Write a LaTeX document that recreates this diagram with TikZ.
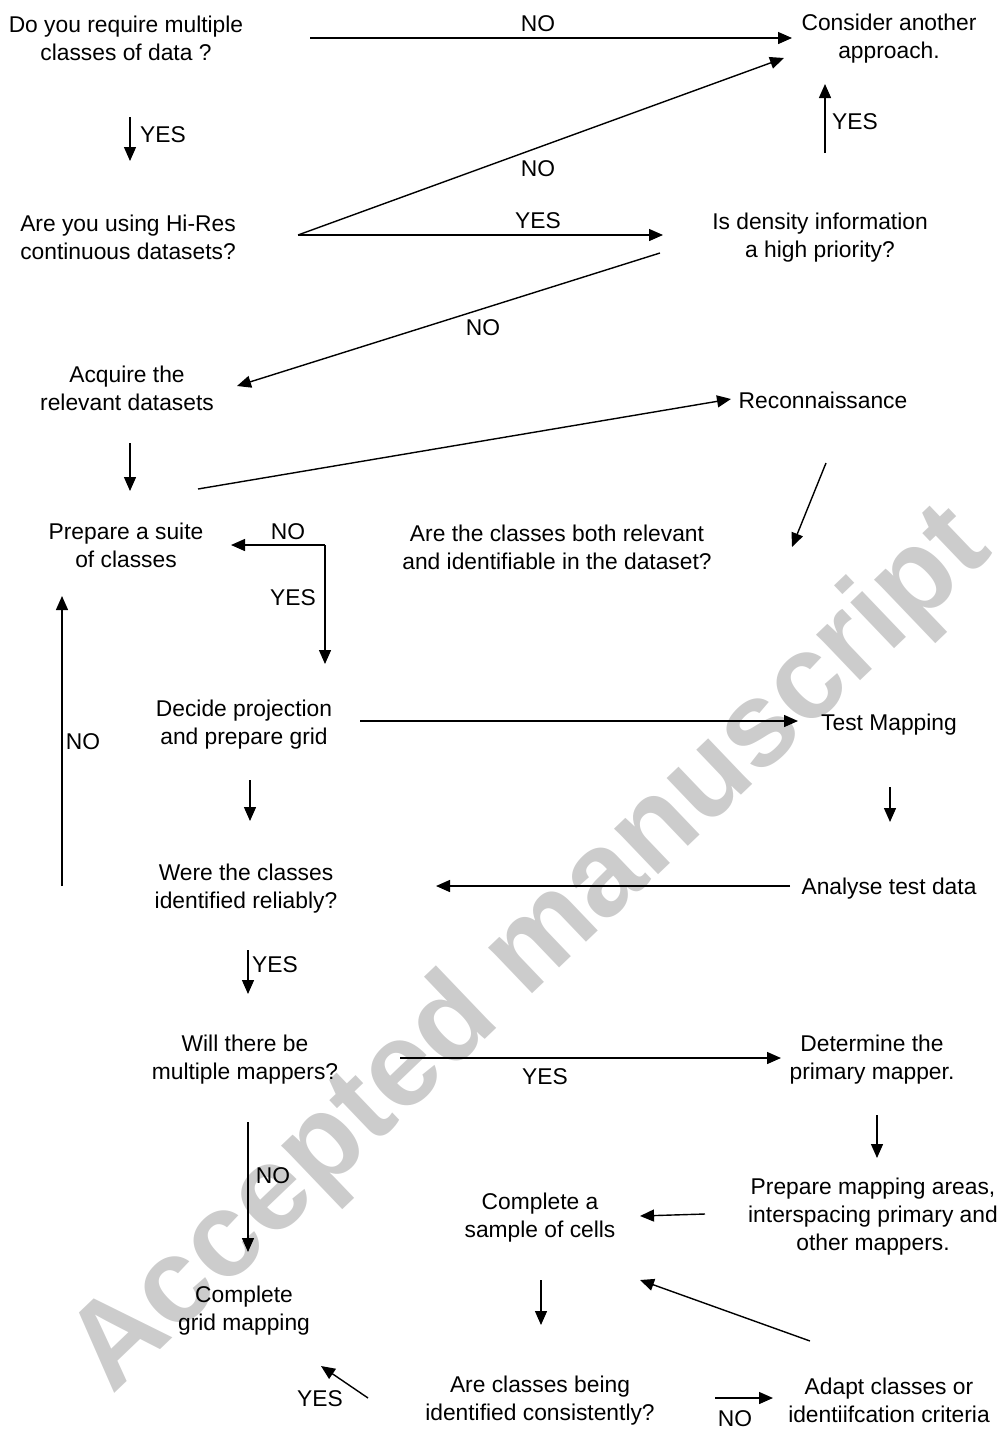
\documentclass[tikz,border=0pt]{standalone}
\usepackage{fontspec}
\setmainfont{Liberation Sans}
\usepackage{tikz}
\usetikzlibrary{arrows.meta}
\tikzset{
	question/.style={align=center, inner sep=0pt, yshift=-1.2pt, font=\fontsize{11.4}{14}\selectfont},
	answer/.style={inner sep=0pt, yshift=-0.5pt, font=\fontsize{11.4}{14}\selectfont},
	flow/.style={-{Triangle[length=7pt,width=6pt]}, line width=0.7pt},
	stamp/.style={black!20, inner sep=0pt, font=\fontsize{60}{62}\selectfont\bfseries}
}

\begin{document}
\begin{tikzpicture}[x=0.5pt,y=-0.5pt]
	\useasboundingbox (0,0) rectangle (1000,1430);
	\node[stamp, rotate=43.7] (mark) at (532,952) {Accepted manuscript};

	\node[question] (q1) at (126,36) {Do you require multiple\\classes of data ?};
	\node[question] (cons) at (889,36) {Consider another\\approach.};
	\node[question] (q2) at (128,235) {Are you using Hi-Res\\continuous datasets?};
	\node[question] (dens) at (820,235) {Is density information\\a high priority?};
	\node[question] (acq) at (127,386) {Acquire the\\relevant datasets};
	\node[question] (recon) at (823,398) {Reconnaissance};
	\node[question] (suite) at (126,543) {Prepare a suite\\of classes};
	\node[question] (relev) at (557,545) {Are the classes both relevant\\and identifiable in the dataset?};
	\node[question] (decide) at (244,722) {Decide projection\\and prepare grid};
	\node[question] (test) at (889,722) {Test Mapping};
	\node[question] (reliab) at (246,886) {Were the classes\\identified reliably?};
	\node[question] (analyse) at (889,886) {Analyse test data};
	\node[question] (multi) at (245,1057) {Will there be\\multiple mappers?};
	\node[question] (primary) at (872,1057) {Determine the\\primary mapper.};
	\node[question] (sample) at (540,1215) {Complete a\\sample of cells};
	\node[question] (areas) at (873,1214) {Prepare mapping areas,\\interspacing primary and\\other mappers.};
	\node[question] (grid) at (244,1308) {Complete\\grid mapping};
	\node[question] (consist) at (540,1398) {Are classes being\\identified consistently?};
	\node[question] (adapt) at (889,1398) {Adapt classes or\\identiifcation criteria};

	\node[answer] (no1) at (538,23) {NO};
	\node[answer] (yes1) at (163,134) {YES};
	\node[answer] (no2) at (538,168) {NO};
	\node[answer] (yes2) at (538,220) {YES};
	\node[answer] (yes3) at (855,121) {YES};
	\node[answer] (no3) at (483,327) {NO};
	\node[answer] (no4) at (288,531) {NO};
	\node[answer] (yes4) at (293,597) {YES};
	\node[answer] (no5) at (83,741) {NO};
	\node[answer] (yes5) at (275,964) {YES};
	\node[answer] (yes6) at (545,1076) {YES};
	\node[answer] (no6) at (273,1175) {NO};
	\node[answer] (yes7) at (320,1398) {YES};
	\node[answer] (no7) at (735,1418) {NO};

	\coordinate (q1out) at (310,38);
	\coordinate (consin) at (792,38);
	\coordinate (q1down) at (130,117);
	\coordinate (q2in) at (130,161);
	\coordinate (q2out) at (298,235);
	\coordinate (consin2) at (784,58);
	\coordinate (densin) at (663,235);
	\coordinate (densup) at (825,153);
	\coordinate (consin3) at (825,84);
	\coordinate (densout) at (660,253);
	\coordinate (acqin) at (237,386);
	\coordinate (acqdown) at (130,443);
	\coordinate (suitein) at (130,491);
	\coordinate (suiteout) at (198,489);
	\coordinate (reconin) at (731,399);
	\coordinate (reconout) at (826,463);
	\coordinate (relevin) at (792,547);
	\coordinate (split) at (325,545);
	\coordinate (suitein2) at (231,545);
	\coordinate (decidein) at (325,664);
	\coordinate (decideout) at (360,721);
	\coordinate (testin) at (798,721);
	\coordinate (reliabup) at (62,886);
	\coordinate (suitein3) at (62,596);
	\coordinate (decidedown) at (250,780);
	\coordinate (reliabin) at (250,821);
	\coordinate (testdown) at (890,787);
	\coordinate (analysein) at (890,822);
	\coordinate (analyseout) at (790,886);
	\coordinate (reliabin2) at (436,886);
	\coordinate (reliabdown) at (248,950);
	\coordinate (multiin) at (248,994);
	\coordinate (multiout) at (400,1058);
	\coordinate (primaryin) at (781,1058);
	\coordinate (primarydown) at (877,1115);
	\coordinate (areasin) at (877,1158);
	\coordinate (multidown) at (248,1122);
	\coordinate (gridin) at (248,1252);
	\coordinate (areasout) at (705,1214);
	\coordinate (samplein) at (640,1216);
	\coordinate (sampledown) at (541,1280);
	\coordinate (consistin) at (541,1325);
	\coordinate (adaptout) at (810,1341);
	\coordinate (samplein2) at (640,1280);
	\coordinate (consistout) at (368,1398);
	\coordinate (gridin2) at (321,1366);
	\coordinate (consistout2) at (715,1398);
	\coordinate (adaptin) at (773,1398);

	\draw[flow] (q1out) -- (consin);
	\draw[flow] (q1down) -- (q2in);
	\draw[flow] (q2out) -- (consin2);
	\draw[flow] (q2out) -- (densin);
	\draw[flow] (densup) -- (consin3);
	\draw[flow] (densout) -- (acqin);
	\draw[flow] (acqdown) -- (suitein);
	\draw[flow] (suiteout) -- (reconin);
	\draw[flow] (reconout) -- (relevin);
	\draw[flow] (split) -- (suitein2);
	\draw[flow] (split) -- (decidein);
	\draw[flow] (decideout) -- (testin);
	\draw[flow] (reliabup) -- (suitein3);
	\draw[flow] (decidedown) -- (reliabin);
	\draw[flow] (testdown) -- (analysein);
	\draw[flow] (analyseout) -- (reliabin2);
	\draw[flow] (reliabdown) -- (multiin);
	\draw[flow] (multiout) -- (primaryin);
	\draw[flow] (primarydown) -- (areasin);
	\draw[flow] (multidown) -- (gridin);
	\draw[flow] (areasout) -- (samplein);
	\draw[flow] (sampledown) -- (consistin);
	\draw[flow] (adaptout) -- (samplein2);
	\draw[flow] (consistout) -- (gridin2);
	\draw[flow] (consistout2) -- (adaptin);
\end{tikzpicture}
\end{document}
